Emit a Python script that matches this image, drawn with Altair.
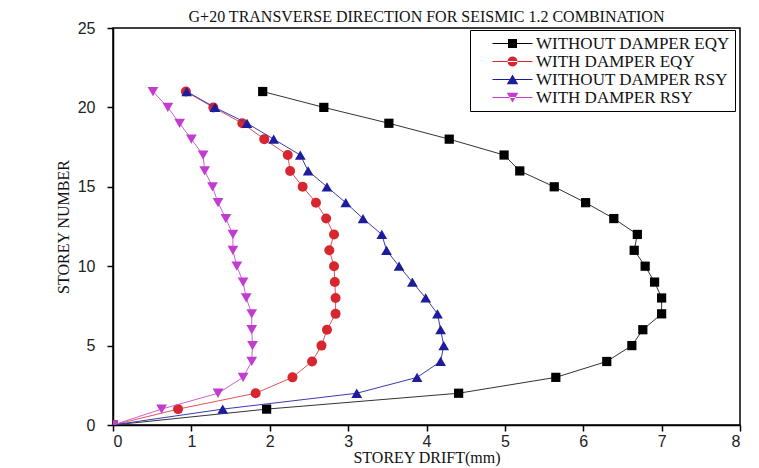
import altair as alt
import pandas as pd

# ---- data ----
storey = list(range(0, 22))
series_names = ["WITHOUT DAMPER EQY", "WITH DAMPER EQY", "WITHOUT DAMPER RSY", "WITH DAMPER RSY"]
without_damper_eqy = [0, 1.96, 4.41, 5.65, 6.30, 6.62, 6.76, 7.00, 7.00, 6.91, 6.79, 6.65,
                      6.69, 6.39, 6.03, 5.63, 5.19, 4.99, 4.29, 3.52, 2.69, 1.91]
with_damper_eqy = [0, 0.83, 1.82, 2.29, 2.54, 2.66, 2.73, 2.84, 2.84, 2.83, 2.82, 2.76,
                   2.82, 2.72, 2.59, 2.42, 2.26, 2.23, 1.93, 1.65, 1.28, 0.93]
without_damper_rsy = [0, 1.40, 3.11, 3.88, 4.18, 4.22, 4.18, 4.14, 3.99, 3.82, 3.65, 3.49,
                      3.43, 3.19, 2.97, 2.73, 2.49, 2.39, 2.05, 1.71, 1.30, 0.94]
with_damper_rsy = [0, 0.62, 1.34, 1.66, 1.77, 1.78, 1.77, 1.77, 1.70, 1.66, 1.58, 1.53,
                   1.53, 1.44, 1.34, 1.27, 1.17, 1.15, 1.00, 0.85, 0.70, 0.51]
x_ticks = list(range(0, 9))
y_ticks = [0, 5, 10, 15, 20, 25]

# ---- styles ----
colors = ["#000000", "#D8262E", "#1C1C9C", "#C23CD0"]
line_colors = ["#333333", "#E0505A", "#3A3AB0", "#CC60D8"]
marker_shapes = ["square", "circle", "triangle-up", "triangle-down"]
marker_sizes = [85, 100, 115, 115]
LINE = "M-1,-0.1H7V0.1H-1Z"
legend_paths = [
    LINE + "M2.1,-0.9H3.9V0.9H2.1Z",
    LINE + "M2,0A1,1 0 1,0 4,0A1,1 0 1,0 2,0Z",
    LINE + "M3,-1L4.15,0.95H1.85Z",
    LINE + "M3,1L4.15,-0.95H1.85Z",
]

all_values = [without_damper_eqy, with_damper_eqy, without_damper_rsy, with_damper_rsy]
rows = []
for name, vals in zip(series_names, all_values):
    for s, v in zip(storey, vals):
        rows.append({"series": name, "storey": s, "drift": v})
df = pd.DataFrame(rows)

serif = "Liberation Serif"
sans = "Liberation Sans"

x_enc = alt.X(
    "drift:Q",
    scale=alt.Scale(domain=[0, 8], nice=False, zero=False),
    axis=alt.Axis(values=x_ticks, title="STOREY DRIFT(mm)", titlePadding=0, labelPadding=2),
)
y_enc = alt.Y(
    "storey:Q",
    scale=alt.Scale(domain=[0, 25], nice=False, zero=False),
    axis=alt.Axis(values=y_ticks, title="STOREY NUMBER", titlePadding=6, labelPadding=12),
)

base = alt.Chart(df)

layers = []
for name, col, lcol, shp, sz in zip(series_names, colors, line_colors, marker_shapes, marker_sizes):
    sub = base.transform_filter(alt.datum.series == name)
    layers.append(
        sub.mark_line(strokeWidth=1, color=lcol, clip=True).encode(
            x=x_enc, y=y_enc, order=alt.Order("storey:Q")
        )
    )
    layers.append(
        sub.mark_point(shape=shp, filled=True, size=sz, opacity=1, color=col, clip=True).encode(
            x=x_enc, y=y_enc
        )
    )

legend_def = alt.Legend(
    title=None,
    orient="none",
    legendX=357,
    legendY=2,
    padding=5,
    strokeColor="#000000",
    fillColor="#ffffff",
    symbolSize=100,
    symbolOffset=14,
    symbolOpacity=1,
    symbolStrokeWidth=0,
    labelOffset=30,
    labelLimit=400,
    labelFont=serif,
    labelFontSize=17,
    labelColor="#111111",
    rowPadding=0,
)

legend_layer = base.mark_point(filled=True, opacity=0, size=100).encode(
    x=x_enc,
    y=y_enc,
    color=alt.Color("series:N", scale=alt.Scale(domain=series_names, range=colors), legend=legend_def),
    shape=alt.Shape("series:N", scale=alt.Scale(domain=series_names, range=legend_paths),
                    legend=legend_def),
)
layers.append(legend_layer)

chart = (
    alt.layer(*layers)
    .properties(
        width=627,
        height=397,
        autosize=alt.AutoSizeParams(type="none"),
        padding={"left": 105, "top": 20, "right": 11, "bottom": 43},
        title=alt.Title(
            "G+20 TRANSVERSE DIRECTION FOR SEISMIC 1.2 COMBINATION",
            font=serif,
            fontSize=16,
            fontWeight="normal",
            color="#111111",
            anchor="middle",
            offset=-5,
        ),
    )
    .configure_view(stroke="#000000", strokeWidth=1.5)
    .configure_axis(
        grid=False,
        domainColor="#000000",
        domainWidth=1.5,
        tickColor="#000000",
        tickWidth=1.5,
        tickSize=6,
        labelFont=sans,
        labelFontSize=16,
        labelColor="#222222",
        titleFont=serif,
        titleFontSize=16,
        titleFontWeight="normal",
        titleColor="#111111",
    )
)

chart.save("out.html", embed_options={"renderer": "svg", "actions": False})
